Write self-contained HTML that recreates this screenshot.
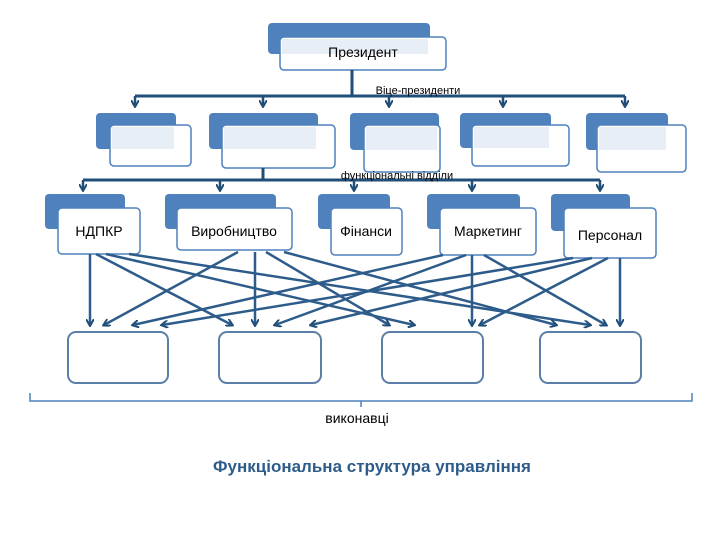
<!DOCTYPE html>
<html><head><meta charset="utf-8"><style>
body{margin:0;width:720px;height:540px;background:#fff;overflow:hidden}
svg{display:block}
text{font-family:"Liberation Sans",sans-serif}
</style></head><body>
<svg width="720" height="540" viewBox="0 0 720 540">
<defs>
<marker id="a" markerWidth="8" markerHeight="8" refX="6" refY="4" orient="auto" markerUnits="userSpaceOnUse"><path d="M0,0 L7,4 L0,8" fill="none" stroke="#1f4e79" stroke-width="2"/></marker>
</defs>
<g fill="#4f81bd">
<rect x="268" y="23" width="162" height="31" rx="4"/>
<rect x="96" y="113" width="80" height="36" rx="4"/><rect x="209" y="113" width="109" height="36" rx="4"/><rect x="350" y="113" width="89" height="37" rx="4"/><rect x="460" y="113" width="91" height="35" rx="4"/><rect x="586" y="113" width="82" height="37" rx="4"/>
<rect x="45" y="194" width="80" height="35" rx="4"/><rect x="165" y="194" width="111" height="35" rx="4"/><rect x="318" y="194" width="72" height="35" rx="4"/><rect x="427" y="194" width="93" height="35" rx="4"/><rect x="551" y="194" width="79" height="37" rx="4"/>
</g>
<g fill="#fff" stroke="#4f81bd" stroke-width="1.5">
<rect x="280" y="37" width="166" height="33" rx="4"/>
<rect x="110" y="125" width="81" height="41" rx="4"/><rect x="222" y="125" width="113" height="43" rx="4"/><rect x="364" y="125" width="76" height="47" rx="4"/><rect x="472" y="125" width="97" height="41" rx="4"/><rect x="597" y="125" width="89" height="47" rx="4"/>
<rect x="58" y="208" width="82" height="46" rx="4"/><rect x="177" y="208" width="115" height="42" rx="4"/><rect x="331" y="208" width="71" height="47" rx="4"/><rect x="440" y="208" width="96" height="47" rx="4"/><rect x="564" y="208" width="92" height="50" rx="4"/>
</g>
<g fill="#fff" stroke="#5b7fa8" stroke-width="2">
<rect x="68" y="332" width="100" height="51" rx="8"/><rect x="219" y="332" width="102" height="51" rx="8"/><rect x="382" y="332" width="101" height="51" rx="8"/><rect x="540" y="332" width="101" height="51" rx="8"/>
</g>
<g fill="#e8eef6"><rect x="112" y="127" width="62" height="22"/><rect x="224" y="127" width="92" height="22"/><rect x="366" y="127" width="71" height="23"/><rect x="474" y="127" width="75" height="21"/><rect x="599" y="127" width="67" height="23"/><rect x="282" y="39" width="146" height="15"/></g>
<g stroke="#1f4e79" stroke-width="3" fill="none">
<path d="M352,70V96M135,96H625M263,168V180M83,180H600"/>
</g>
<g stroke="#1f4e79" stroke-width="2.5" marker-end="url(#a)">
<line x1="135" y1="96" x2="135" y2="106"/><line x1="263" y1="96" x2="263" y2="106"/><line x1="389" y1="96" x2="389" y2="106"/><line x1="503" y1="96" x2="503" y2="106"/><line x1="625" y1="96" x2="625" y2="106"/>
<line x1="83" y1="180" x2="83" y2="190"/><line x1="220" y1="180" x2="220" y2="190"/><line x1="354" y1="180" x2="354" y2="190"/><line x1="472" y1="180" x2="472" y2="190"/><line x1="600" y1="180" x2="600" y2="190"/>
</g>
<g stroke="#2e5c8a" stroke-width="2.5" marker-end="url(#a)">
<line x1="90" y1="254" x2="90" y2="325"/><line x1="96" y1="254" x2="232" y2="325"/><line x1="106" y1="254" x2="414" y2="325"/><line x1="129" y1="254" x2="590" y2="325"/>
<line x1="238" y1="252" x2="104" y2="325"/><line x1="255" y1="252" x2="255" y2="325"/><line x1="266" y1="252" x2="389" y2="325"/><line x1="284" y1="252" x2="556" y2="325"/>
<line x1="443" y1="255" x2="133" y2="325"/><line x1="466" y1="255" x2="275" y2="325"/><line x1="472" y1="255" x2="472" y2="325"/><line x1="484" y1="255" x2="606" y2="325"/>
<line x1="573" y1="258" x2="162" y2="325"/><line x1="592" y1="258" x2="311" y2="325"/><line x1="608" y1="258" x2="480" y2="325"/><line x1="620" y1="258" x2="620" y2="325"/>
</g>
<path d="M30,393V401H692V393M361,401V407" stroke="#4f81bd" stroke-width="1.5" fill="none"/>
<g text-anchor="middle" font-size="14" fill="#000">
<text x="363" y="57">Президент</text>
<text x="99" y="236">НДПКР</text>
<text x="234" y="236">Виробництво</text>
<text x="366" y="236">Фінанси</text>
<text x="488" y="236">Маркетинг</text>
<text x="610" y="240">Персонал</text>
<text x="357" y="423">виконавці</text>
<text x="418" y="94" font-size="11">Віце-президенти</text>
<text x="397" y="179" font-size="11">функціональні відділи</text>
<text x="372" y="472" font-size="17" font-weight="bold" fill="#2e5c8a">Функціональна структура управління</text>
</g>
</svg>
</body></html>
